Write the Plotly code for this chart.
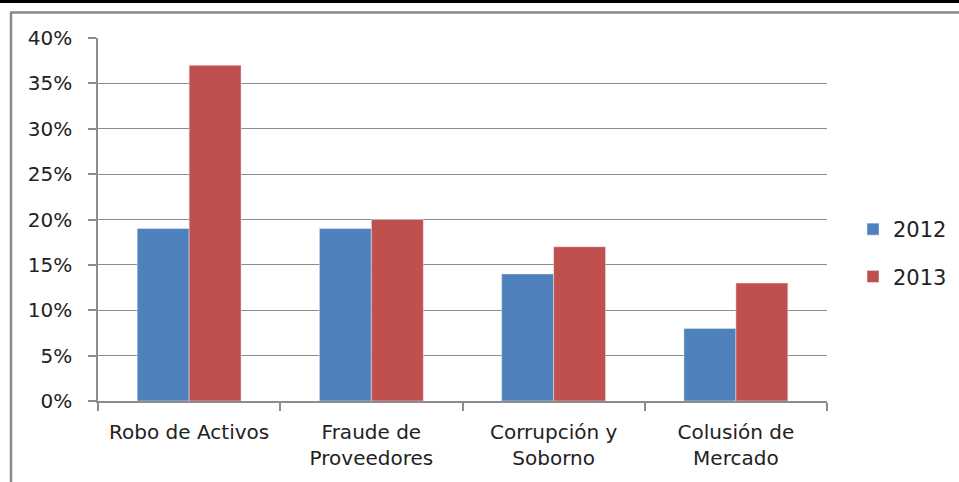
import plotly.graph_objects as go

categories = ["Robo de Activos", "Fraude de<br>Proveedores", "Corrupción y<br>Soborno", "Colusión de<br>Mercado"]
series_names = ["2012", "2013"]
values_2012 = [0.19, 0.19, 0.14, 0.08]
values_2013 = [0.37, 0.20, 0.17, 0.13]
y_ticks = [0, 0.05, 0.10, 0.15, 0.20, 0.25, 0.30, 0.35, 0.40]
y_tick_labels = ["0%", "5%", "10%", "15%", "20%", "25%", "30%", "35%", "40%"]

W, H = 959, 482
L, R, T, B = 98, 132, 38, 81
pw, ph = W - L - R, H - T - B

def px_x(x):
    return (x - L) / pw

def px_y(y):
    return (H - B - y) / ph

font = dict(family="DejaVu Sans, sans-serif", size=20, color="#222222")
grid = "#8c8c8c"

fig = go.Figure()
fig.add_trace(go.Bar(x=categories, y=values_2012, name=series_names[0], marker_color="#4F81BD",
                     legendgroup="a"))
fig.add_trace(go.Bar(x=categories, y=values_2013, name=series_names[1], marker_color="#C0504D",
                     legendgroup="b"))

fig.update_layout(
    width=W, height=H,
    margin=dict(l=L, r=R, t=T, b=B, autoexpand=False),
    paper_bgcolor="white", plot_bgcolor="white",
    font=font,
    barmode="group", bargap=0.43, bargroupgap=0,
    showlegend=True,
    legend=dict(x=px_x(853), y=px_y(209), xanchor="left", yanchor="top",
                font=dict(family="DejaVu Sans, sans-serif", size=21, color="#222222"), tracegroupgap=17,
                bgcolor="rgba(0,0,0,0)"),
    xaxis=dict(showline=True, linecolor=grid, linewidth=1.5, ticks="outside", tickson="boundaries",
               ticklen=8, tickcolor=grid, tickwidth=1.5, showgrid=False, ticklabelstandoff=12,
               tickfont=font),
    yaxis=dict(range=[0, 0.40], tickvals=y_ticks, ticktext=y_tick_labels, showline=True,
               linecolor=grid, linewidth=1.5, ticks="outside", ticklen=8, tickcolor=grid, tickwidth=1.5,
               showgrid=True, gridcolor=grid, gridwidth=1.2, zeroline=False, ticklabelstandoff=12,
               tickfont=font),
    shapes=[
        dict(type="line", xref="paper", yref="paper", x0=px_x(11), x1=px_x(11), y0=px_y(12), y1=px_y(490),
             line=dict(color="#8a8a8a", width=2.5)),
        dict(type="line", xref="paper", yref="paper", x0=px_x(10), x1=px_x(970), y0=px_y(12.5), y1=px_y(12.5),
             line=dict(color="#8a8a8a", width=2.5)),
        dict(type="line", xref="paper", yref="paper", x0=px_x(-10), x1=px_x(970), y0=px_y(1.5), y1=px_y(1.5),
             line=dict(color="black", width=3)),
    ],
)

fig.write_html("out.html", config={"displayModeBar": False},
               post_script="document.body.style.margin='0';document.body.style.overflow='hidden';")
